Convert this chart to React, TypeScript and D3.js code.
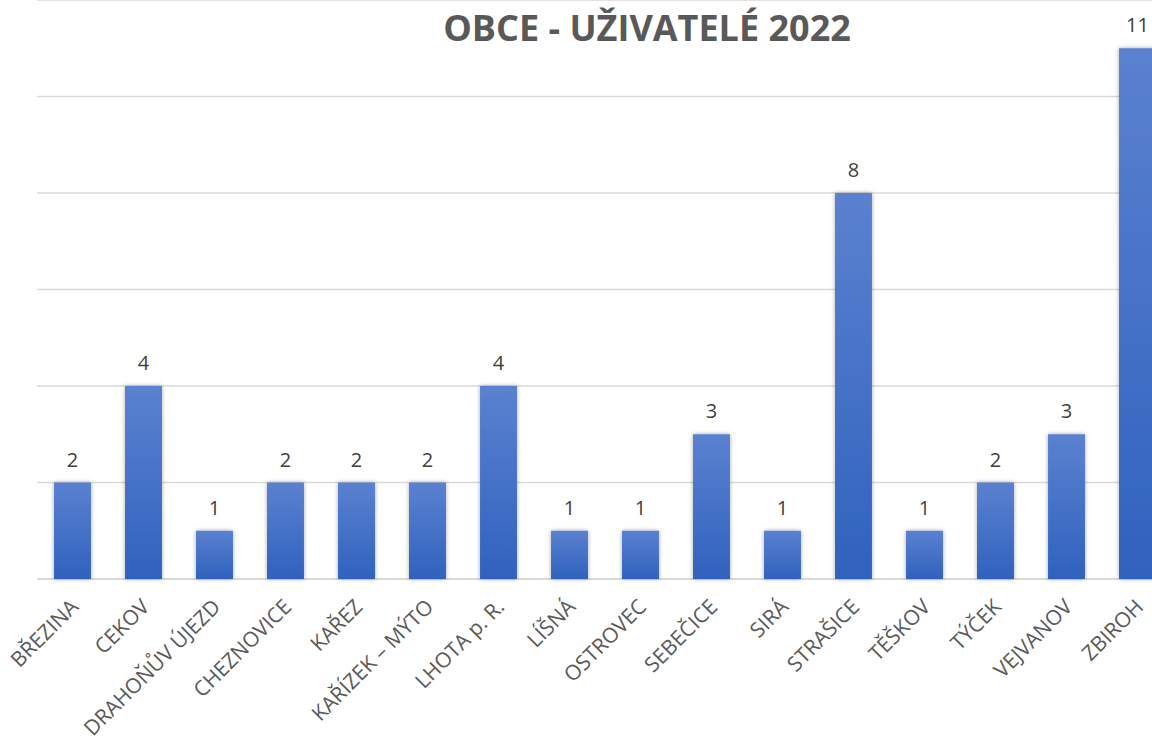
import * as React from "react";
import * as d3 from "d3";

const categories = [
  "BŘEZINA", "CEKOV", "DRAHOŇŮV ÚJEZD", "CHEZNOVICE", "KAŘEZ", "KAŘÍZEK – MÝTO",
  "LHOTA p. R.", "LÍŠNÁ", "OSTROVEC", "SEBEČICE", "SIRÁ", "STRAŠICE",
  "TĚŠKOV", "TÝČEK", "VEJVANOV", "ZBIROH",
];
const values = [2, 4, 1, 2, 2, 2, 4, 1, 1, 3, 1, 8, 1, 2, 3, 11];
const yTicks = [0, 2, 4, 6, 8, 10, 12];
const title = "OBCE - UŽIVATELÉ 2022";

const W = 1152;
const H = 740;

function drawChart(svgEl: SVGSVGElement) {
  const svg = d3.select(svgEl);
  svg.selectAll("*").remove();

  const x = d3.scaleBand<string>()
    .domain(categories)
    .range([37, 1173])
    .paddingInner(0.48)
    .paddingOuter(0.24);

  const y = d3.scaleLinear().domain([0, 12]).range([579, 0]);

  const defs = svg.append("defs");
  const grad = defs.append("linearGradient")
    .attr("id", "barGrad")
    .attr("x1", 0).attr("y1", 0).attr("x2", 0).attr("y2", 1);
  grad.append("stop").attr("offset", "0%").attr("stop-color", "#5b81d0");
  grad.append("stop").attr("offset", "100%").attr("stop-color", "#2f62be");

  const shadow = defs.append("filter")
    .attr("id", "shadow")
    .attr("x", "-30%").attr("y", "-10%").attr("width", "160%").attr("height", "120%");
  shadow.append("feDropShadow")
    .attr("dx", 0).attr("dy", 0).attr("stdDeviation", 2)
    .attr("flood-color", "#000").attr("flood-opacity", 0.35);

  // gridlines
  svg.append("g")
    .selectAll("line")
    .data(yTicks)
    .join("line")
    .attr("x1", 37).attr("x2", W)
    .attr("y1", d => y(d)).attr("y2", d => y(d))
    .attr("stroke", "#d9d9d9")
    .attr("stroke-width", d => (d === 0 ? 2 : 1.5));

  // bars
  svg.append("g")
    .selectAll("rect")
    .data(values)
    .join("rect")
    .attr("x", (d, i) => x(categories[i])!)
    .attr("y", d => y(d))
    .attr("width", x.bandwidth())
    .attr("height", d => y(0) - y(d))
    .attr("fill", "url(#barGrad)")
    .attr("filter", "url(#shadow)");

  // data labels
  svg.append("g")
    .selectAll("text")
    .data(values)
    .join("text")
    .attr("x", (d, i) => x(categories[i])! + x.bandwidth() / 2)
    .attr("y", d => y(d) - 16)
    .attr("text-anchor", "middle")
    .attr("font-family", "'Open Sans', sans-serif")
    .attr("font-size", 20)
    .attr("fill", "#404040")
    .text(d => d);

  // category labels
  svg.append("g")
    .selectAll("text")
    .data(categories)
    .join("text")
    .attr("transform", d => `translate(${x(d)! + x.bandwidth() / 2 + 2},${603}) rotate(-45)`)
    .attr("text-anchor", "end")
    .attr("dy", "0.35em")
    .attr("font-family", "'Open Sans', sans-serif")
    .attr("font-size", 21)
    .attr("fill", "#595959")
    .text(d => d);

  // title
  svg.append("text")
    .attr("x", 647)
    .attr("y", 41)
    .attr("text-anchor", "middle")
    .attr("font-family", "'Open Sans', sans-serif")
    .attr("font-weight", "bold")
    .attr("font-size", 36)
    .attr("fill", "#595959")
    .text(title);
}

const App = () => {
  const svgRef = React.useRef<SVGSVGElement>(null);
  React.useEffect(() => {
    if (svgRef.current) drawChart(svgRef.current);
  }, []);

  return (
    <div style={{ position: "fixed", left: 0, top: 0, background: "#fff" }}>
      <svg ref={svgRef} width={W} height={H} style={{ display: "block" }}></svg>
    </div>
  );
};

export default App;
